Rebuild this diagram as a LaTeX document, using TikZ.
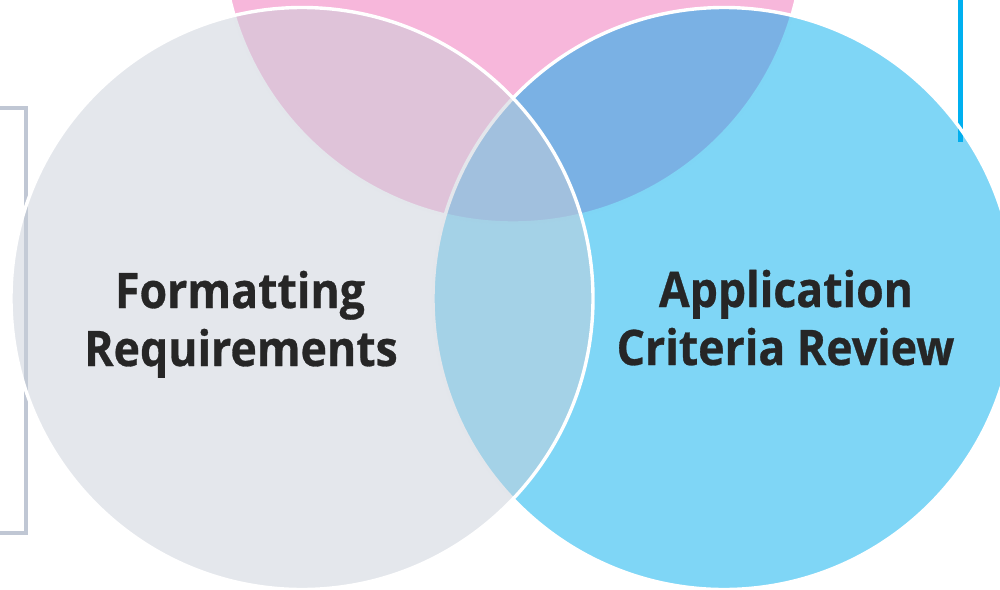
\documentclass[tikz,border=0pt]{standalone}
\usepackage{fontspec}
\setmainfont{Open Sans}[FakeStretch=0.91, BoldFeatures={FakeBold=0.6}]
\definecolor{petal}{RGB}{239,111,183}
\definecolor{sky}{RGB}{0,173,237}
\definecolor{mist}{RGB}{201,207,217}
\definecolor{rail}{RGB}{192,199,212}
\definecolor{cyanbar}{RGB}{0,176,240}
\definecolor{ink}{RGB}{38,38,38}
\tikzset{
  venn/.style={fill=#1, fill opacity=0.5, draw=white, draw opacity=1, line width=3.4pt},
  label/.style={font=\fontsize{49}{58}\selectfont\bfseries, text=ink, anchor=base, inner sep=0pt},
}
\begin{document}
\begin{tikzpicture}[x=1pt,y=-1pt]
  \useasboundingbox (0,0) rectangle (1000,589);
  % side bracket and accent bar
  \draw[rail, line width=3.5pt] (0,108) -- (26,108) -- (26,533) -- (0,533);
  \draw[cyanbar, line width=5pt] (960,-5) -- (960,142);
  % the three overlapping circles
  \path[venn=petal] (513,-68) circle[radius=291];
  \path[venn=sky]   (724,298.5) circle[radius=291];
  \path[venn=mist]  (302,298.5) circle[radius=291];
  % captions
  \node[label] (fmtA) at (240,308) {Formatting};
  \node[label] (fmtB) at (241,366) {Requirements};
  \node[label] (appA) at (786,307) {Application};
  \node[label] (appB) at (785.5,365) {Criteria Review};
\end{tikzpicture}
\end{document}
